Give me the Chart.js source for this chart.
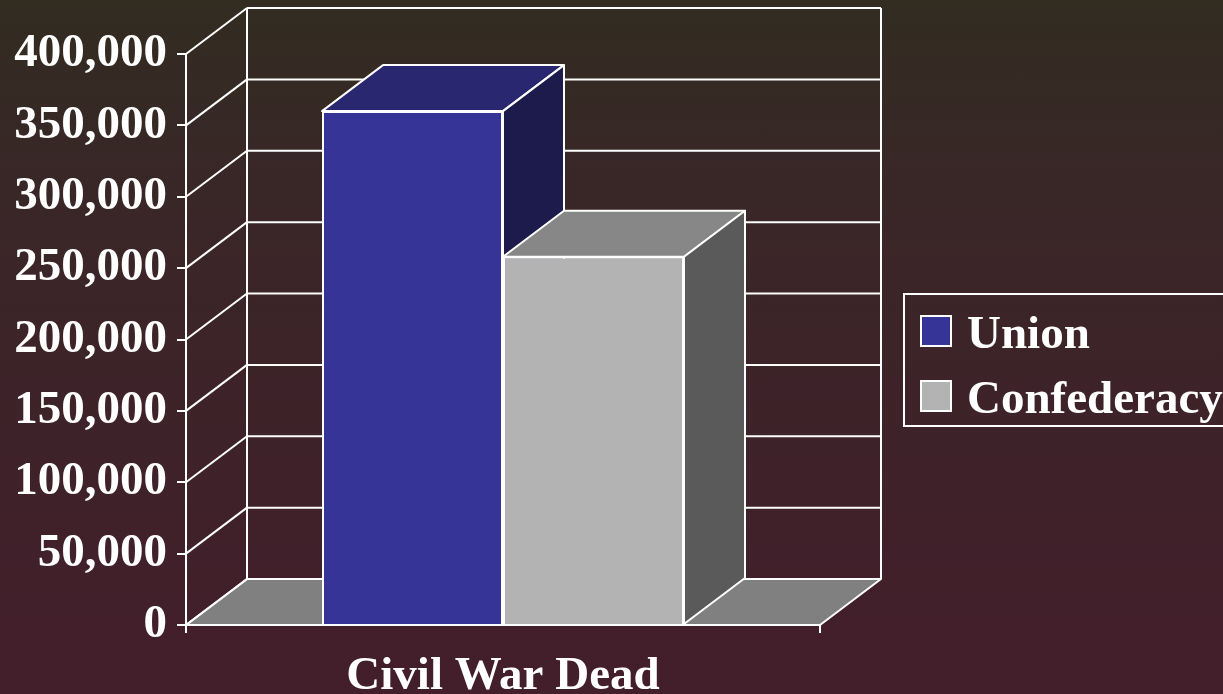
<!DOCTYPE html>
<html>
<head>
<meta charset="utf-8">
<script src="https://cdn.jsdelivr.net/npm/chart.js@4/dist/chart.umd.min.js"></script>
<style>
  html, body { margin: 0; padding: 0; }
  body { width: 1223px; height: 694px; overflow: hidden;
    background: linear-gradient(to bottom, #322c21 0%, #3a2628 32%, #431e2b 100%); }
  #wrap { position: relative; width: 1223px; height: 694px; }
</style>
</head>
<body>
<div id="wrap"><canvas id="ch"></canvas></div>
<script>
// Korban Perang Saudara Amerika: Union vs Confederacy, bar 3D ala PowerPoint lama.
const CATEGORIES = ["Civil War Dead"];
const SERIES = ["Union", "Confederacy"];
const UNION = [360000];
const CONFEDERACY = [258000];
const Y_MIN = 0, Y_MAX = 400000, Y_STEP = 50000;

(function () {
  const FONT = '"Liberation Serif", "Times New Roman", serif';
  const WHITE = "#ffffff";
  const DX = 61, DY = -46;           // kedalaman 3D
  const COLORS = [
    { front: "#363497", top: "#28276f", side: "#1c1b4b" },
    { front: "#b3b3b3", top: "#878787", side: "#5a5a5a" }
  ];
  const FLOOR = "#808080";

  function poly(ctx, pts, fill) {
    ctx.beginPath();
    ctx.moveTo(pts[0][0], pts[0][1]);
    for (let i = 1; i < pts.length; i++) ctx.lineTo(pts[i][0], pts[i][1]);
    ctx.closePath();
    if (fill) { ctx.fillStyle = fill; ctx.fill(); }
    ctx.stroke();
  }

  function line(ctx, x1, y1, x2, y2) {
    ctx.beginPath(); ctx.moveTo(x1, y1); ctx.lineTo(x2, y2); ctx.stroke();
  }

  const walls3d = {
    id: "walls3d",
    beforeDatasetsDraw(chart) {
      const ctx = chart.ctx, a = chart.chartArea, y = chart.scales.y;
      const y0 = y.getPixelForValue(Y_MIN), yTop = y.getPixelForValue(Y_MAX);
      ctx.save();
      ctx.strokeStyle = WHITE; ctx.lineWidth = 2; ctx.lineJoin = "round";
      // lantai
      poly(ctx, [[a.left, y0], [a.right, y0], [a.right + DX, y0 + DY], [a.left + DX, y0 + DY]], FLOOR);
      // dinding belakang + samping
      line(ctx, a.left + DX, y0 + DY, a.left + DX, yTop + DY);
      line(ctx, a.right + DX, y0 + DY, a.right + DX, yTop + DY);
      y.ticks.forEach((t) => {
        const py = y.getPixelForValue(t.value);
        line(ctx, a.left, py, a.left + DX, py + DY);
        line(ctx, a.left + DX, py + DY, a.right + DX, py + DY);
      });
      // sisi atas & samping tiap bar (muka depan digambar Chart.js)
      chart.data.datasets.forEach((ds, i) => {
        chart.getDatasetMeta(i).data.forEach((el) => {
          const L = el.x - el.width / 2, R = el.x + el.width / 2;
          poly(ctx, [[L, el.y], [R, el.y], [R + DX, el.y + DY], [L + DX, el.y + DY]], COLORS[i].top);
          poly(ctx, [[R, el.y], [R + DX, el.y + DY], [R + DX, el.base + DY], [R, el.base]], COLORS[i].side);
        });
      });
      ctx.restore();
    },
    afterDraw(chart) {
      // legenda berbingkai di kanan
      const ctx = chart.ctx;
      const bx = 904, by = 294, bw = 340, bh = 132;
      ctx.save();
      ctx.strokeStyle = WHITE; ctx.lineWidth = 2;
      ctx.strokeRect(bx, by, bw, bh);
      ctx.font = "bold 47px " + FONT;
      ctx.textBaseline = "alphabetic";
      chart.data.datasets.forEach((ds, i) => {
        const sy = 316 + i * 65;
        ctx.fillStyle = COLORS[i].front;
        ctx.fillRect(921, sy, 30, 30);
        ctx.strokeRect(921, sy, 30, 30);
        ctx.fillStyle = WHITE;
        ctx.fillText(ds.label, 967, sy + 32);
      });
      ctx.restore();
    }
  };

  const c = document.getElementById("ch");
  c.width = 1223; c.height = 694;

  new Chart(c, {
    type: "bar",
    data: {
      labels: CATEGORIES,
      datasets: [
        { label: SERIES[0], data: UNION, backgroundColor: COLORS[0].front, borderColor: WHITE, borderWidth: 2 },
        { label: SERIES[1], data: CONFEDERACY, backgroundColor: COLORS[1].front, borderColor: WHITE, borderWidth: 2 }
      ]
    },
    options: {
      responsive: false, animation: false,
      layout: { padding: { top: 54, right: 403, bottom: 0, left: 0 } },
      categoryPercentage: 0.571, barPercentage: 1,
      plugins: { legend: { display: false }, tooltip: { enabled: false } },
      scales: {
        y: {
          min: Y_MIN, max: Y_MAX,
          afterFit: (s) => { s.width = 186; },
          ticks: { stepSize: Y_STEP, padding: 10, color: WHITE,
            font: { family: FONT, size: 47, weight: "bold" },
            callback: (v) => v.toLocaleString("en-US") },
          grid: { drawOnChartArea: false, drawTicks: true, tickLength: 9, color: WHITE, lineWidth: 2 },
          border: { display: true, color: WHITE, width: 2 }
        },
        x: {
          afterFit: (s) => { s.height = 69; },
          ticks: { padding: 16, color: WHITE, font: { family: FONT, size: 47, weight: "bold" } },
          grid: { offset: true, drawOnChartArea: false, drawTicks: true, tickLength: 8, color: WHITE, lineWidth: 2 },
          border: { display: true, color: WHITE, width: 2 }
        }
      }
    },
    plugins: [walls3d]
  });
})();
</script>
</body>
</html>
